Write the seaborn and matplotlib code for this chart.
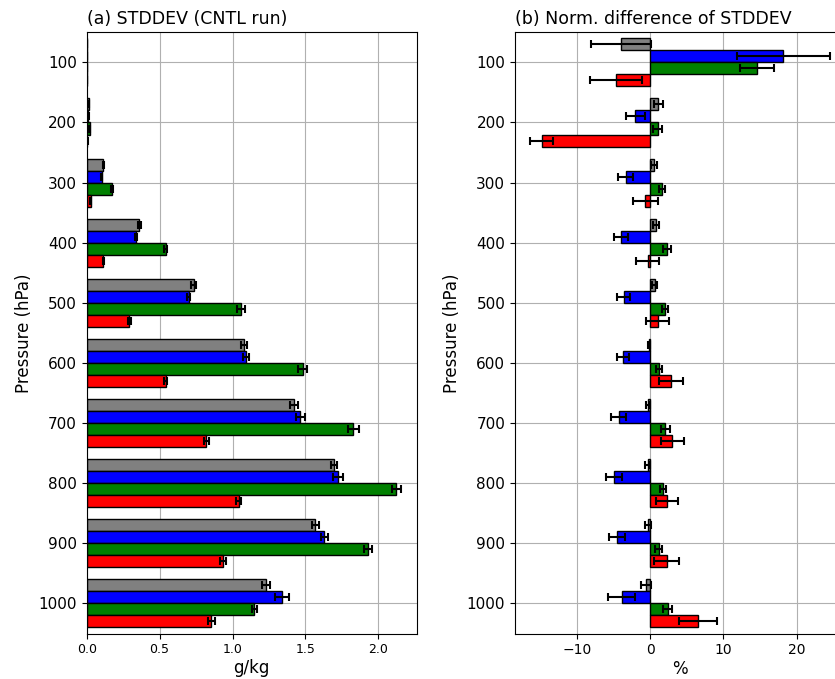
import numpy as np
import pandas as pd
import matplotlib
matplotlib.use("Agg")
import matplotlib.pyplot as plt
import seaborn as sns

levels = [100, 200, 300, 400, 500, 600, 700, 800, 900, 1000]
series = ["gray", "blue", "green", "red"]
colors = ["#808080", "#0000ff", "#008000", "#ff0000"]

# (a) STDDEV (CNTL run), g/kg
std_gray = [0.003, 0.013, 0.115, 0.362, 0.733, 1.077, 1.420, 1.695, 1.567, 1.228]
std_blue = [0.003, 0.012, 0.103, 0.339, 0.700, 1.093, 1.466, 1.723, 1.629, 1.340]
std_green = [0.002, 0.020, 0.174, 0.541, 1.058, 1.480, 1.828, 2.124, 1.929, 1.150]
std_red = [0.001, 0.005, 0.027, 0.115, 0.293, 0.541, 0.820, 1.042, 0.935, 0.855]
std_err_gray = [0.001, 0.001, 0.004, 0.008, 0.016, 0.020, 0.027, 0.023, 0.023, 0.027]
std_err_blue = [0.001, 0.001, 0.004, 0.006, 0.011, 0.020, 0.029, 0.034, 0.023, 0.046]
std_err_green = [0.001, 0.001, 0.004, 0.008, 0.025, 0.034, 0.038, 0.031, 0.029, 0.015]
std_err_red = [0.001, 0.001, 0.003, 0.005, 0.008, 0.008, 0.017, 0.017, 0.018, 0.025]

# (b) Norm. difference of STDDEV, %
dif_gray = [-4.0, 1.1, 0.55, 0.77, 0.6, -0.18, -0.3, -0.36, -0.27, -0.55]
dif_blue = [18.2, -2.0, -3.36, -4.0, -3.6, -3.7, -4.3, -4.9, -4.55, -3.9]
dif_green = [14.6, 1.05, 1.6, 2.27, 2.05, 1.18, 2.05, 1.7, 1.18, 2.4]
dif_red = [-4.6, -14.8, -0.64, -0.36, 1.05, 2.86, 3.05, 2.27, 2.27, 6.55]
dif_err_gray = [4.1, 0.6, 0.45, 0.43, 0.35, 0.15, 0.3, 0.35, 0.45, 0.65]
dif_err_blue = [6.36, 1.25, 1.0, 1.0, 0.9, 0.85, 1.0, 1.1, 1.05, 1.8]
dif_err_green = [2.27, 0.6, 0.45, 0.55, 0.45, 0.4, 0.6, 0.4, 0.5, 0.64]
dif_err_red = [3.55, 1.6, 1.7, 1.6, 1.55, 1.6, 1.6, 1.5, 1.7, 2.55]


def make_df(vals, errs):
    rows = []
    for name, v, e in zip(series, vals, errs):
        for lev, vv, ee in zip(levels, v, e):
            rows.append({"level": lev, "value": vv, "err": ee, "series": name})
    return pd.DataFrame(rows)


df_a = make_df([std_gray, std_blue, std_green, std_red],
               [std_err_gray, std_err_blue, std_err_green, std_err_red])
df_b = make_df([dif_gray, dif_blue, dif_green, dif_red],
               [dif_err_gray, dif_err_blue, dif_err_green, dif_err_red])

fig = plt.figure(figsize=(8.35, 6.79), dpi=100)
ax1 = fig.add_axes([0.1038, 0.067, 0.3952, 0.8854])
ax2 = fig.add_axes([0.6168, 0.067, 0.3952, 0.8854])


def draw(ax, df, title, xlabel, xtick_size):
    ax.set_axisbelow(True)
    ax.grid(True, color="#b0b0b0", linewidth=0.8)
    sns.barplot(data=df, x="value", y="level", hue="series", hue_order=series,
                palette=colors, saturation=1, orient="h", native_scale=True,
                errorbar=None, edgecolor="black", linewidth=1, legend=False,
                ax=ax, width=0.8)
    for name, cont in zip(series, ax.containers):
        sub = df[df["series"] == name].sort_values("level")
        ys = [b.get_y() + b.get_height() / 2 for b in cont]
        ax.errorbar(sub["value"].values, ys, xerr=sub["err"].values, fmt="none",
                    ecolor="black", elinewidth=1.5, capsize=3, capthick=1.5)
    ax.set_ylim(1050, 50)
    ax.set_yticks(levels)
    ax.set_yticklabels([str(l) for l in levels])
    ax.tick_params(axis="y", labelsize=11)
    ax.tick_params(axis="x", labelsize=xtick_size)
    ax.set_ylabel("Pressure (hPa)", fontsize=12)
    ax.set_xlabel(xlabel, fontsize=12, labelpad=2)
    ax.set_title(title, loc="left", fontsize=12.5)


draw(ax1, df_a, "(a) STDDEV (CNTL run)", "g/kg", 9)
draw(ax2, df_b, "(b) Norm. difference of STDDEV", "%", 10)
ax2.set_xticks([-10, 0, 10, 20])

fig.savefig("out.png", dpi=100)
